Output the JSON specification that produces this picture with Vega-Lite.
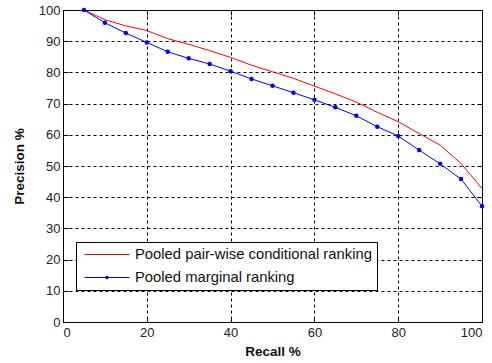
{
  "$schema": "https://vega.github.io/schema/vega-lite/v6.json",
  "width": 419,
  "height": 312,
  "autosize": "none",
  "padding": {"left": 63, "top": 10, "right": 10, "bottom": 41},
  "background": "white",
  "config": {
    "font": "Liberation Sans",
    "view": {"stroke": "black", "strokeWidth": 1},
    "axis": {
      "labelFont": "Liberation Sans",
      "labelFontSize": 13,
      "labelColor": "#222",
      "titleFont": "Liberation Sans",
      "titleFontSize": 13.5,
      "titleFontWeight": "bold",
      "titleColor": "#111",
      "domain": false,
      "gridColor": "black",
      "gridOpacity": 1,
      "gridDash": [3, 3],
      "gridWidth": 1,
      "tickColor": "black",
      "tickSize": -5,
      "labelPadding": 8
    }
  },
  "data": {
    "values": [
      {"recall": 5, "precision": 100, "series": "Pooled pair-wise conditional ranking"},
      {"recall": 10, "precision": 96.9, "series": "Pooled pair-wise conditional ranking"},
      {"recall": 15, "precision": 94.9, "series": "Pooled pair-wise conditional ranking"},
      {"recall": 20, "precision": 93.4, "series": "Pooled pair-wise conditional ranking"},
      {"recall": 25, "precision": 90.8, "series": "Pooled pair-wise conditional ranking"},
      {"recall": 30, "precision": 89.0, "series": "Pooled pair-wise conditional ranking"},
      {"recall": 35, "precision": 87.0, "series": "Pooled pair-wise conditional ranking"},
      {"recall": 40, "precision": 84.8, "series": "Pooled pair-wise conditional ranking"},
      {"recall": 45, "precision": 82.3, "series": "Pooled pair-wise conditional ranking"},
      {"recall": 50, "precision": 80.2, "series": "Pooled pair-wise conditional ranking"},
      {"recall": 55, "precision": 78.1, "series": "Pooled pair-wise conditional ranking"},
      {"recall": 60, "precision": 75.6, "series": "Pooled pair-wise conditional ranking"},
      {"recall": 65, "precision": 73.1, "series": "Pooled pair-wise conditional ranking"},
      {"recall": 70, "precision": 70.5, "series": "Pooled pair-wise conditional ranking"},
      {"recall": 75, "precision": 67.2, "series": "Pooled pair-wise conditional ranking"},
      {"recall": 80, "precision": 64.2, "series": "Pooled pair-wise conditional ranking"},
      {"recall": 85, "precision": 60.4, "series": "Pooled pair-wise conditional ranking"},
      {"recall": 90, "precision": 56.7, "series": "Pooled pair-wise conditional ranking"},
      {"recall": 95, "precision": 50.8, "series": "Pooled pair-wise conditional ranking"},
      {"recall": 100, "precision": 42.8, "series": "Pooled pair-wise conditional ranking"},
      {"recall": 5, "precision": 100, "series": "Pooled marginal ranking"},
      {"recall": 10, "precision": 95.9, "series": "Pooled marginal ranking"},
      {"recall": 15, "precision": 92.6, "series": "Pooled marginal ranking"},
      {"recall": 20, "precision": 89.6, "series": "Pooled marginal ranking"},
      {"recall": 25, "precision": 86.6, "series": "Pooled marginal ranking"},
      {"recall": 30, "precision": 84.5, "series": "Pooled marginal ranking"},
      {"recall": 35, "precision": 82.7, "series": "Pooled marginal ranking"},
      {"recall": 40, "precision": 80.4, "series": "Pooled marginal ranking"},
      {"recall": 45, "precision": 77.9, "series": "Pooled marginal ranking"},
      {"recall": 50, "precision": 75.7, "series": "Pooled marginal ranking"},
      {"recall": 55, "precision": 73.5, "series": "Pooled marginal ranking"},
      {"recall": 60, "precision": 71.2, "series": "Pooled marginal ranking"},
      {"recall": 65, "precision": 68.8, "series": "Pooled marginal ranking"},
      {"recall": 70, "precision": 66.1, "series": "Pooled marginal ranking"},
      {"recall": 75, "precision": 62.6, "series": "Pooled marginal ranking"},
      {"recall": 80, "precision": 59.6, "series": "Pooled marginal ranking"},
      {"recall": 85, "precision": 55.1, "series": "Pooled marginal ranking"},
      {"recall": 90, "precision": 50.7, "series": "Pooled marginal ranking"},
      {"recall": 95, "precision": 45.8, "series": "Pooled marginal ranking"},
      {"recall": 100, "precision": 37.1, "series": "Pooled marginal ranking"}
    ]
  },
  "encoding": {
    "color": {
      "field": "series",
      "type": "nominal",
      "scale": {
        "domain": ["Pooled pair-wise conditional ranking", "Pooled marginal ranking"],
        "range": ["#ff0000", "#0000ff"]
      },
      "legend": {
        "title": null,
        "orient": "none",
        "legendX": 13,
        "legendY": 232,
        "symbolType": "M-0.571,0H5.857",
        "symbolSize": 196,
        "symbolStrokeWidth": 1,
        "labelFontSize": 14.8,
        "labelColor": "#111",
        "labelFont": "Liberation Sans",
        "labelLimit": 0,
        "strokeColor": "black",
        "fillColor": "white",
        "padding": 5,
        "rowPadding": 7,
        "labelOffset": 39,
        "encode": {
          "symbols": {
            "update": {
              "shape": {"signal": "datum.value === 'Pooled marginal ranking' ? 'M-0.571,0H5.857M2.64,-0.2A0.2,0.2,0,1,1,2.64,0.2A0.2,0.2,0,1,1,2.64,-0.2' : 'M-0.571,0H5.857'"},
              "fill": {"signal": "datum.value === 'Pooled marginal ranking' ? '#0000ff' : 'transparent'"}
            }
          }
        }
      }
    }
  },
  "layer": [
    {
      "mark": {"type": "line", "strokeWidth": 1},
      "encoding": {
        "x": {
          "field": "recall",
          "type": "quantitative",
          "scale": {"domain": [0, 100], "nice": false},
          "axis": {"values": [0, 20, 40, 60, 80, 100], "title": "Recall %", "titlePadding": 5, "labelPadding": 9}
        },
        "y": {
          "field": "precision",
          "type": "quantitative",
          "scale": {"domain": [0, 100], "nice": false},
          "axis": {"values": [0, 10, 20, 30, 40, 50, 60, 70, 80, 90, 100], "title": "Precision %", "titlePadding": 12}
        }
      }
    },
    {
      "transform": [{"filter": "datum.series === 'Pooled marginal ranking'"}],
      "mark": {"type": "circle", "size": 20, "opacity": 1},
      "encoding": {
        "x": {
          "field": "recall",
          "type": "quantitative",
          "scale": {"domain": [0, 100], "nice": false},
          "axis": {"orient": "top", "values": [0, 20, 40, 60, 80, 100], "title": null, "labels": false, "grid": false}
        },
        "y": {
          "field": "precision",
          "type": "quantitative",
          "scale": {"domain": [0, 100], "nice": false},
          "axis": {"orient": "right", "values": [0, 10, 20, 30, 40, 50, 60, 70, 80, 90, 100], "title": null, "labels": false, "grid": false}
        }
      }
    }
  ],
  "resolve": {"axis": {"x": "independent", "y": "independent"}}
}
